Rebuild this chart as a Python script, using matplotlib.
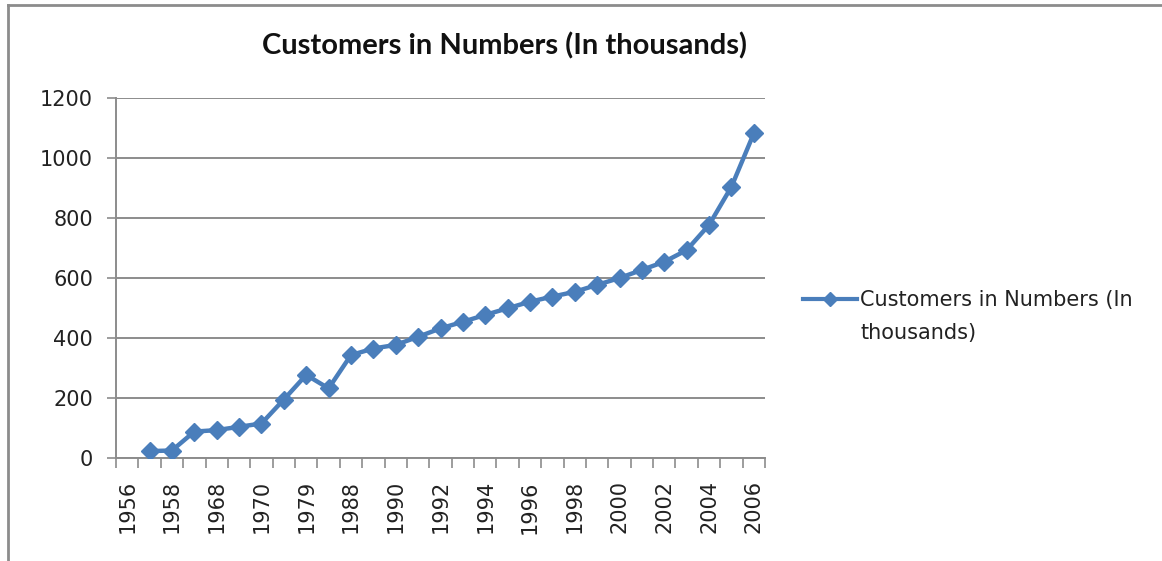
import numpy as np
import matplotlib
matplotlib.use("Agg")
import matplotlib.pyplot as plt
from matplotlib.lines import Line2D

# ---- data ----
years = ["1956", "1957", "1958", "1965", "1968", "1969", "1970", "1975", "1979", "1985",
         "1988", "1989", "1990", "1991", "1992", "1993", "1994", "1995", "1996", "1997",
         "1998", "1999", "2000", "2001", "2002", "2003", "2004", "2005", "2006"]
customers = [np.nan, 23, 25, 88, 93, 104, 115, 195, 277, 232,
             343, 365, 377, 404, 432, 454, 477, 499, 521, 538,
             554, 577, 600, 627, 654, 693, 777, 904, 1082]
series_name = "Customers in Numbers (In thousands)"
title = "Customers in Numbers (In thousands)"
yticks = [0, 200, 400, 600, 800, 1000, 1200]

W, H = 1162, 561
fig = plt.figure(figsize=(W / 100, H / 100), dpi=100)
fig.patch.set_facecolor("white")

ax = fig.add_axes([116 / W, 1 - 458 / H, (765 - 116) / W, (458 - 98) / H])
x = np.arange(len(years))
blue = "#4a7ebb"
grid_c = "#8c8c8c"
ax.plot(x, customers, color=blue, lw=3.2, marker="D", markersize=9,
        markerfacecolor=blue, markeredgecolor=blue, zorder=3)

ax.set_xlim(-0.5, len(years) - 0.5)
ax.set_ylim(0, 1200)
ax.set_yticks(yticks)
ax.set_yticklabels([str(v) for v in yticks])
ax.yaxis.grid(True, color=grid_c, lw=1.4)
ax.set_axisbelow(True)

# category boundary ticks (major), labels every other category (minor)
ax.set_xticks(np.arange(-0.5, len(years), 1.0))
ax.set_xticklabels([])
ax.set_xticks(x[::2], minor=True)
ax.set_xticklabels(years[::2], minor=True, rotation=90)
ax.tick_params(axis="x", which="major", length=7, width=1.2, color=grid_c, direction="out")
ax.tick_params(axis="x", which="minor", length=0, pad=16, labelsize=15, labelcolor="#222222")
ax.tick_params(axis="y", length=6.5, width=1.2, color=grid_c, direction="out",
               pad=10, labelsize=15, labelcolor="#222222")

for s in ["top", "right"]:
    ax.spines[s].set_visible(False)
for s in ["left", "bottom"]:
    ax.spines[s].set_color(grid_c)
    ax.spines[s].set_linewidth(1.4)

# title
fig.text(505 / W, 1 - 46 / H, title, ha="center", va="center",
         fontsize=21, fontweight="bold", family="Lato", color="#111111")

# legend
handle = Line2D([], [], color=blue, lw=3, marker="D", markersize=7,
                markerfacecolor=blue, markeredgecolor=blue)
first, second = "Customers in Numbers (In", "thousands)"
leg = fig.legend([handle], [first], loc="center left",
                 bbox_to_anchor=(803 / W, 1 - 300 / H), frameon=False,
                 borderpad=0, borderaxespad=0, handlelength=2.6, handletextpad=0.15,
                 prop={"size": 15}, numpoints=1)
for t in leg.get_texts():
    t.set_color("#222222")
fig.canvas.draw()
tb = leg.get_texts()[0].get_window_extent()
fig.text(tb.x0 / W, 1 - 333 / H, second, ha="left", va="center",
         fontsize=15, color="#222222")

# chart border (top and left)
fig.add_artist(Line2D([8 / W, 1.0], [1 - 5 / H, 1 - 5 / H], color=grid_c, lw=2,
                      transform=fig.transFigure))
fig.add_artist(Line2D([8 / W, 8 / W], [0.0, 1 - 5 / H], color=grid_c, lw=2,
                      transform=fig.transFigure))

fig.savefig("out.png", dpi=100, facecolor="white")
